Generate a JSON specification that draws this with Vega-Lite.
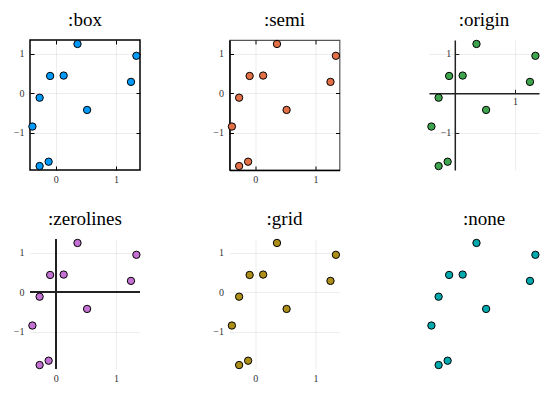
{
  "$schema": "https://vega.github.io/schema/vega-lite/v6.json",
  "padding": {"left": 12, "top": 10, "right": 5, "bottom": 5},
  "background": "white",
  "datasets": {
    "pts": [
      {"x": 0.36, "y": 1.25},
      {"x": 1.34, "y": 0.95},
      {"x": -0.095, "y": 0.44},
      {"x": 0.13, "y": 0.45},
      {"x": 1.25, "y": 0.29},
      {"x": -0.27, "y": -0.11},
      {"x": 0.52, "y": -0.42},
      {"x": -0.39, "y": -0.84},
      {"x": -0.12, "y": -1.73},
      {"x": -0.27, "y": -1.84}
    ]
  },
  "config": {
    "font": "'Liberation Serif', serif",
    "view": {"stroke": null},
    "axis": {
      "labelFont": "'Liberation Serif', serif",
      "labelFontSize": 10,
      "labelColor": "#333",
      "gridColor": "#000",
      "gridOpacity": 0.12,
      "gridWidth": 0.6,
      "domain": false,
      "ticks": false,
      "labelPadding": 6,
      "labelFlush": false,
      "labelOverlap": false,
      "format": "d"
    },
    "axisBottom": {"labelPadding": 4},
    "title": {"font": "'Liberation Serif', serif", "fontSize": 19, "fontWeight": "normal", "baseline": "alphabetic", "offset": 8, "color": "black"}
  },
  "vconcat": [
    {
      "hconcat": [
        {
          "title": ":box",
          "width": 110, "height": 130,
          "view": {"stroke": "black", "strokeWidth": 1.5},
          "data": {"name": "pts"},
          "layer": [
            {
              "mark": {"type": "point", "opacity": 0},
              "encoding": {
                "x": {"field": "x", "type": "quantitative", "scale": {"domain": [-0.43, 1.4], "nice": false, "zero": false},
                      "axis": {"orient": "top", "values": [0, 1], "labels": false, "ticks": true, "tickSize": -4, "tickColor": "black", "tickWidth": 1, "grid": false, "title": null}},
                "y": {"field": "y", "type": "quantitative", "scale": {"domain": [-1.94, 1.35], "nice": false, "zero": false},
                      "axis": {"orient": "right", "values": [-1, 0, 1], "labels": false, "ticks": true, "tickSize": -4, "tickColor": "black", "tickWidth": 1, "grid": false, "title": null}}
              }
            },
            {
              "mark": {"type": "point", "shape": "circle", "filled": true, "fill": "#009AFA", "stroke": "black", "strokeWidth": 1, "size": 54, "opacity": 1},
              "encoding": {
                "x": {"field": "x", "type": "quantitative", "scale": {"domain": [-0.43, 1.4], "nice": false, "zero": false},
                      "axis": {"orient": "bottom", "values": [0, 1], "grid": true, "ticks": true, "tickSize": -4, "tickColor": "black", "tickWidth": 1, "labelPadding": 8, "title": null}},
                "y": {"field": "y", "type": "quantitative", "scale": {"domain": [-1.94, 1.35], "nice": false, "zero": false},
                      "axis": {"orient": "left", "values": [-1, 0, 1], "grid": true, "ticks": true, "tickSize": -4, "tickColor": "black", "tickWidth": 1, "labelPadding": 10, "title": null}}
              }
            }
          ],
          "resolve": {"axis": {"x": "independent", "y": "independent"}}
        },
        {
          "title": ":semi",
          "width": 110, "height": 130,
          "view": {"stroke": "#555", "strokeWidth": 1.2},
          "data": {"name": "pts"},
          "layer": [
            {
              "mark": {"type": "point", "opacity": 0},
              "encoding": {
                "x": {"field": "x", "type": "quantitative", "scale": {"domain": [-0.43, 1.4], "nice": false, "zero": false},
                      "axis": {"orient": "top", "values": [0, 1], "labels": false, "ticks": true, "tickSize": -4, "tickColor": "black", "tickWidth": 1, "grid": false, "title": null}},
                "y": {"field": "y", "type": "quantitative", "scale": {"domain": [-1.94, 1.35], "nice": false, "zero": false},
                      "axis": {"orient": "right", "values": [-1, 0, 1], "labels": false, "ticks": true, "tickSize": -4, "tickColor": "black", "tickWidth": 1, "grid": false, "title": null}}
              }
            },
            {
              "mark": {"type": "point", "shape": "circle", "filled": true, "fill": "#E36F47", "stroke": "black", "strokeWidth": 1, "size": 54, "opacity": 1},
              "encoding": {
                "x": {"field": "x", "type": "quantitative", "scale": {"domain": [-0.43, 1.4], "nice": false, "zero": false},
                      "axis": {"orient": "bottom", "values": [0, 1], "grid": true, "domain": true, "domainColor": "black", "domainWidth": 1.5, "ticks": true, "tickSize": -4, "tickColor": "black", "tickWidth": 1, "labelPadding": 8, "title": null}},
                "y": {"field": "y", "type": "quantitative", "scale": {"domain": [-1.94, 1.35], "nice": false, "zero": false},
                      "axis": {"orient": "left", "values": [-1, 0, 1], "grid": true, "domain": true, "domainColor": "black", "domainWidth": 1.5, "ticks": true, "tickSize": -4, "tickColor": "black", "tickWidth": 1, "labelPadding": 10, "title": null}}
              }
            }
          ],
          "resolve": {"axis": {"x": "independent", "y": "independent"}}
        },
        {
          "title": ":origin",
          "width": 110, "height": 130,
          "data": {"name": "pts"},
          "layer": [
            {
              "mark": {"type": "point", "opacity": 0},
              "encoding": {
                "x": {"field": "x", "type": "quantitative", "scale": {"domain": [-0.43, 1.4], "nice": false, "zero": false},
                      "axis": {"orient": "bottom", "values": [0, 1], "labels": false, "grid": true, "title": null}},
                "y": {"field": "y", "type": "quantitative", "scale": {"domain": [-1.94, 1.35], "nice": false, "zero": false},
                      "axis": {"orient": "left", "values": [-1, 0, 1], "labels": false, "grid": true, "title": null}}
              }
            },
            {
              "mark": {"type": "point", "shape": "circle", "filled": true, "fill": "#3EA44E", "stroke": "black", "strokeWidth": 1, "size": 54, "opacity": 1},
              "encoding": {
                "x": {"field": "x", "type": "quantitative", "scale": {"domain": [-0.43, 1.4], "nice": false, "zero": false},
                      "axis": {"orient": "bottom", "values": [1], "offset": -76.7, "grid": false, "domain": true, "domainColor": "#222", "domainWidth": 1.5, "ticks": true, "tickSize": -4, "tickColor": "#222", "tickWidth": 1, "labelPadding": 7, "title": null}},
                "y": {"field": "y", "type": "quantitative", "scale": {"domain": [-1.94, 1.35], "nice": false, "zero": false},
                      "axis": {"orient": "left", "values": [-1, 1], "offset": -25.8, "grid": false, "domain": true, "domainColor": "#222", "domainWidth": 1.5, "ticks": true, "tickSize": -4, "tickColor": "#222", "tickWidth": 1, "labelPadding": 8, "title": null}}
              }
            }
          ],
          "resolve": {"axis": {"x": "independent", "y": "independent"}}
        }
      ],
      "spacing": 89.5,
      "bounds": "flush"
    },
    {
      "hconcat": [
        {
          "title": ":zerolines",
          "width": 110, "height": 130,
          "data": {"name": "pts"},
          "layer": [
            {
              "mark": {"type": "rule", "color": "#222", "strokeWidth": 1.5},
              "encoding": {"y": {"datum": 0, "type": "quantitative", "scale": {"domain": [-1.94, 1.35], "nice": false, "zero": false},
                      "axis": {"orient": "left", "values": [-1, 0, 1], "grid": true, "title": null}}}
            },
            {
              "mark": {"type": "rule", "color": "#222", "strokeWidth": 1.5},
              "encoding": {"x": {"datum": 0, "type": "quantitative", "scale": {"domain": [-0.43, 1.4], "nice": false, "zero": false},
                      "axis": {"orient": "bottom", "values": [0, 1], "grid": true, "title": null}}}
            },
            {
              "mark": {"type": "point", "shape": "circle", "filled": true, "fill": "#C371D2", "stroke": "black", "strokeWidth": 1, "size": 54, "opacity": 1},
              "encoding": {
                "x": {"field": "x", "type": "quantitative", "axis": {"orient": "bottom", "values": [0, 1], "grid": true, "title": null}},
                "y": {"field": "y", "type": "quantitative", "axis": {"orient": "left", "values": [-1, 0, 1], "grid": true, "title": null}}
              }
            }
          ]
        },
        {
          "title": ":grid",
          "width": 110, "height": 130,
          "data": {"name": "pts"},
          "mark": {"type": "point", "shape": "circle", "filled": true, "fill": "#AC8E18", "stroke": "black", "strokeWidth": 1, "size": 54, "opacity": 1},
          "encoding": {
            "x": {"field": "x", "type": "quantitative", "scale": {"domain": [-0.43, 1.4], "nice": false, "zero": false},
                  "axis": {"values": [0, 1], "grid": true, "title": null}},
            "y": {"field": "y", "type": "quantitative", "scale": {"domain": [-1.94, 1.35], "nice": false, "zero": false},
                  "axis": {"values": [-1, 0, 1], "grid": true, "title": null}}
          }
        },
        {
          "title": ":none",
          "width": 110, "height": 130,
          "data": {"name": "pts"},
          "mark": {"type": "point", "shape": "circle", "filled": true, "fill": "#00A9AD", "stroke": "black", "strokeWidth": 1, "size": 54, "opacity": 1},
          "encoding": {
            "x": {"field": "x", "type": "quantitative", "scale": {"domain": [-0.43, 1.4], "nice": false, "zero": false}, "axis": null},
            "y": {"field": "y", "type": "quantitative", "scale": {"domain": [-1.94, 1.35], "nice": false, "zero": false}, "axis": null}
          }
        }
      ],
      "spacing": 89.5,
      "bounds": "flush"
    }
  ],
  "spacing": 25
}
